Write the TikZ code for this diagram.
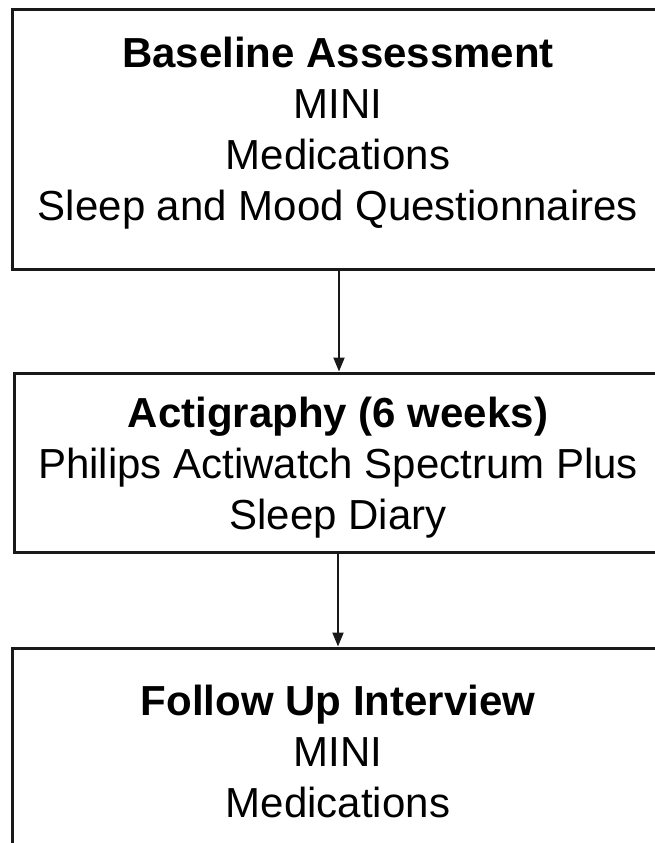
\documentclass[tikz,border=0pt]{standalone}
\usepackage{fontspec}
\setmainfont{Liberation Sans}
\usetikzlibrary{arrows.meta}
\begin{document}
\begin{tikzpicture}[x=1pt,y=-1pt,
  box/.style={draw=black!90,line width=3pt,rectangle,inner sep=0pt},
  txt/.style={align=center,font=\fontsize{42}{51}\selectfont,inner sep=0pt,anchor=north},
  conn/.style={line width=2pt,draw=black!90,-{Triangle[length=14pt,width=11pt]}}]
\useasboundingbox (0,0) rectangle (655,843);
\clip (0,0) rectangle (655,843);
\node[box,minimum width=651pt,minimum height=259pt] (b1) at (338,139.5) {};
\node[box,minimum width=649.5pt,minimum height=179pt] (b2) at (338.75,462.5) {};
\node[box,minimum width=651.5pt,minimum height=252pt] (b3) at (337.75,774) {};
\node[txt] (t1) at (338,37) {\textbf{Baseline Assessment}\\MINI\\Medications\\Sleep and Mood Questionnaires};
\node[txt] (t2) at (338,397) {\textbf{Actigraphy (6 weeks)}\\Philips Actiwatch Spectrum Plus\\Sleep Diary};
\node[txt] (t3) at (338,685) {\textbf{Follow Up Interview}\\MINI\\Medications};
\draw[conn] (b1.south -| 339,0) -- (b2.north -| 339,0);
\draw[conn] (b2.south -| 338,0) -- (b3.north -| 338,0);
\end{tikzpicture}
\end{document}
